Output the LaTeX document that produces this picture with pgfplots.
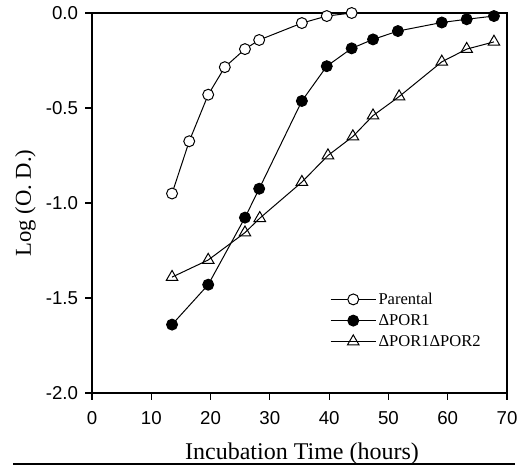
\documentclass[border=0pt]{standalone}
\usepackage{fontspec}
\setmainfont{Liberation Serif}
\setsansfont{Liberation Sans}
\usepackage{pgfplots}
\pgfplotsset{compat=1.18}
\begin{document}
\begin{tikzpicture}
\path[use as bounding box] (0,0) rectangle (390pt,348.75pt);
\draw[line width=1.5pt] (9.75pt,0.75pt) -- (386.25pt,0.75pt);
\begin{axis}[
  at={(69pt,54pt)}, anchor=south west,
  scale only axis, width=311.25pt, height=285pt,
  xmin=0, xmax=70, ymin=-2, ymax=0,
  xtick={0,10,...,70}, ytick={-2,-1.5,-1,-0.5,0},
  axis line style={line width=0.8pt},
  tick style={black, line width=0.8pt},
  tick align=outside, tick pos=left,
  major tick length=5pt,
  /pgf/number format/assume math mode=true,
  ticklabel style={font=\fontsize{14}{14}\sffamily},
  yticklabel style={/pgf/number format/fixed, /pgf/number format/fixed zerofill, /pgf/number format/precision=1, xshift=-2pt},
  xticklabel style={yshift=-5pt},
  xlabel={Incubation Time (hours)},
  xlabel style={font=\fontsize{18}{18}\selectfont, at={(axis description cs:0.506,-0.176)}, anchor=base},
  ylabel={Log (O. D.)},
  ylabel style={font=\fontsize{17}{17}\selectfont, at={(axis description cs:-0.147,0.5)}, anchor=base},
  legend style={at={(axis cs:40.1,-1.46)}, anchor=north west, draw=none, fill=none,
    font=\fontsize{12.4}{12.4}\selectfont, row sep=3pt, inner sep=0pt,
    nodes={inner sep=1.5pt}},
  legend cell align=left,
  legend image code/.code={\draw[mark repeat=2,mark phase=2,#1] plot coordinates {(0cm,0cm) (0.6cm,0cm) (1.2cm,0cm)};},
  every axis plot/.append style={black, line width=0.75pt},
]
\addplot[mark=*, mark size=4.1pt, mark options={fill=white, line width=0.75pt}] coordinates {
(13.5,-0.95) (16.4,-0.675) (19.6,-0.43) (22.4,-0.285) (25.8,-0.19) (28.2,-0.142)
(35.4,-0.053) (39.6,-0.016) (43.8,0.0)};
\addlegendentry{Parental}
\addplot[mark=*, mark size=4.1pt, mark options={fill=black}] coordinates {
(13.5,-1.64) (19.6,-1.43) (25.8,-1.077) (28.2,-0.925) (35.4,-0.463) (39.6,-0.28)
(43.8,-0.186) (47.4,-0.139) (51.6,-0.095) (59.0,-0.05) (63.2,-0.033) (67.8,-0.016)};
\addlegendentry{ΔPOR1}
\addplot[mark=triangle, mark size=5pt, mark options={fill=white, line width=0.75pt}] coordinates {
(13.5,-1.39) (19.6,-1.30) (25.8,-1.156) (28.3,-1.08) (35.4,-0.89) (39.8,-0.75)
(44.0,-0.65) (47.4,-0.54) (51.8,-0.44) (59.0,-0.257) (63.2,-0.19) (67.8,-0.152)};
\addlegendentry{ΔPOR1ΔPOR2}
\end{axis}
\end{tikzpicture}
\end{document}
